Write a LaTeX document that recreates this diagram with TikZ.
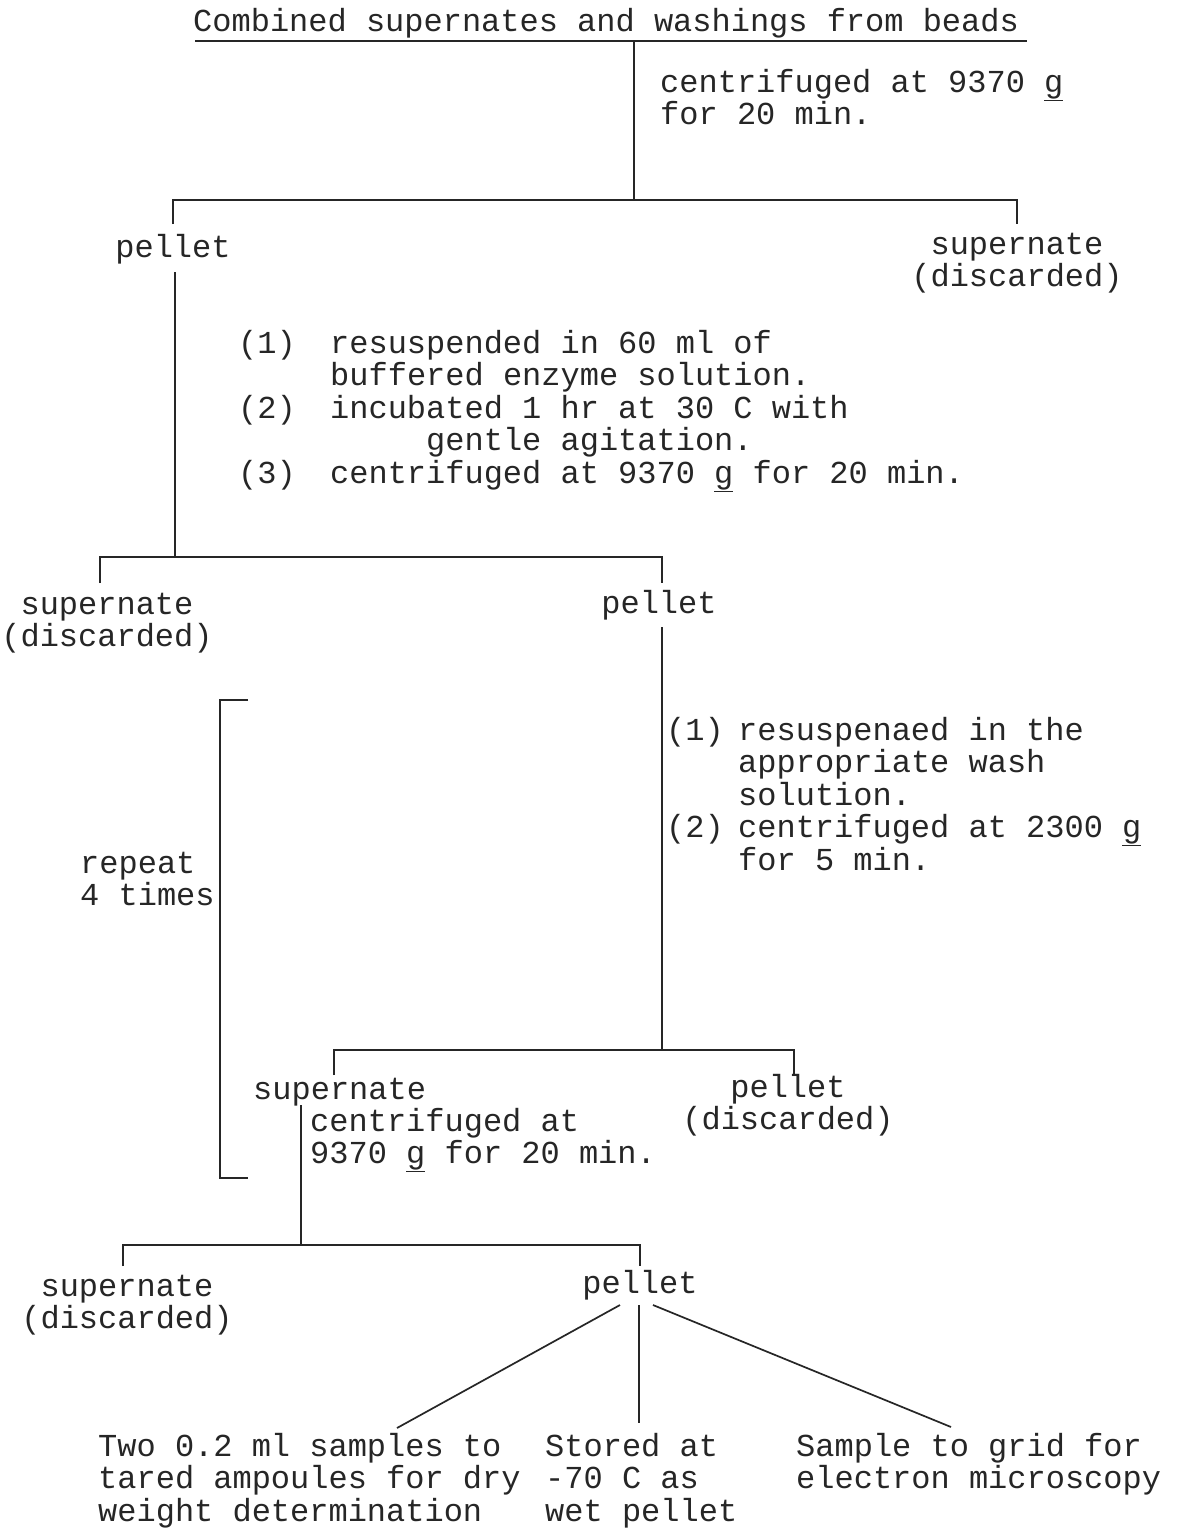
\documentclass[tikz,border=0pt]{standalone}
\usepackage{fontspec}
\setmonofont{Liberation Mono}
\begin{document}
\begin{tikzpicture}[x=1pt,y=-1pt,
  tw/.style={font=\ttfamily\fontsize{32}{32.5}\selectfont, inner sep=0pt, anchor=base west, align=left, text=black!85},
  twc/.style={tw, anchor=base, align=center},
  ln/.style={line width=1.7pt, draw=black!85}]
\fill[white] (0,0) rectangle (1176,1532);
\useasboundingbox (0,0) rectangle (1176,1532);
% note: for multi-line nodes the base anchor is the baseline of the last line

% title
\node[tw] (title) at (193,31) {Combined supernates and washings from beads};
\coordinate (ulL) at (195,41);
\coordinate (ulR) at (1027,41);
\draw[ln] (ulL) -- (ulR);

% step 1
\coordinate (j0) at (634,41);
\coordinate (j1) at (634,200);
\node[tw] (c1) at (660,124.5) {centrifuged at 9370 \underline{g}\\for 20 min.};
\coordinate (b1L) at (173,200);
\coordinate (b1R) at (1017,200);
\node[twc] (p1) at (173,257) {pellet};
\node[twc] (s1) at (1017,286.5) {supernate\\(discarded)};
\draw[ln] (j0) -- (j1);
\draw[ln] (173,224) -- (b1L) -- (b1R) -- (1017,224);

% step 2
\node[tw] (t1) at (238,483) {\makebox[92pt][l]{(1)}resuspended in 60 ml of\\
\hspace*{92pt}buffered enzyme solution.\\
\makebox[92pt][l]{(2)}incubated 1 hr at 30 C with\\
\hspace*{188pt}gentle agitation.\\
\makebox[92pt][l]{(3)}centrifuged at 9370 \underline{g} for 20 min.};
\coordinate (p1d) at (175,272);
\coordinate (j2) at (175,557);
\coordinate (b2L) at (100,557);
\coordinate (b2R) at (662,557);
\node[twc] (s2) at (107,646.5) {supernate\\(discarded)};
\node[twc] (p2) at (659,613) {pellet};
\draw[ln] (p1d) -- (j2);
\draw[ln] (100,583) -- (b2L) -- (b2R) -- (662,583);

% step 3
\coordinate (p2d) at (662,627);
\coordinate (j3) at (662,1050);
\node[tw] (t2) at (666,870) {\makebox[72pt][l]{(1)}resuspenaed in the\\
\hspace*{72pt}appropriate wash\\
\hspace*{72pt}solution.\\
\makebox[72pt][l]{(2)}centrifuged at 2300 \underline{g}\\
\hspace*{72pt}for 5 min.};
\draw[ln] (p2d) -- (j3);
\coordinate (b3L) at (334,1050);
\coordinate (b3R) at (794,1050);
\draw[ln] (334,1075) -- (b3L) -- (b3R) -- (794,1075);
\node[tw] (s3) at (253,1099) {supernate};
\node[twc] (p3) at (788,1129.5) {pellet\\(discarded)};

% repeat bracket
\coordinate (brT) at (248,700);
\coordinate (brB) at (248,1178);
\draw[ln] (brT) -- (220,700) -- (220,1178) -- (brB);
\node[tw] (rep) at (80,905.5) {repeat\\4 times};

% step 4
\node[tw] (c4) at (310,1163.5) {centrifuged at\\9370 \underline{g} for 20 min.};
\coordinate (s3d) at (301,1105);
\coordinate (j4) at (301,1245);
\draw[ln] (s3d) -- (j4);
\coordinate (b4L) at (123,1245);
\coordinate (b4R) at (640,1245);
\draw[ln] (123,1266) -- (b4L) -- (b4R) -- (640,1266);
\node[twc] (s4) at (127,1328.5) {supernate\\(discarded)};
\node[twc] (p4) at (640,1293) {pellet};

% final branches
\node[tw] (f1) at (98,1521) {Two 0.2 ml samples to\\tared ampoules for dry\\weight determination};
\node[tw] (f2) at (545,1521) {Stored at\\-70 C as\\wet pellet};
\node[tw] (f3) at (796,1488.5) {Sample to grid for\\electron microscopy};
\coordinate (a1) at (620,1305);
\coordinate (a2) at (639,1305);
\coordinate (a3) at (653,1305);
\coordinate (e1) at (397,1428);
\coordinate (e2) at (639,1423);
\coordinate (e3) at (951,1427);
\draw[ln] (a1) -- (e1);
\draw[ln] (a2) -- (e2);
\draw[ln] (a3) -- (e3);
\end{tikzpicture}
\end{document}
